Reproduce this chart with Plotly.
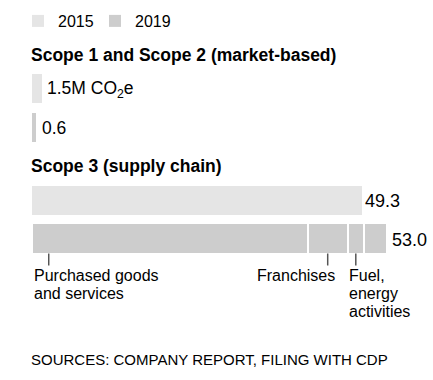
import plotly.graph_objects as go

# ---------------- data ----------------
years = ["2015", "2019"]
scope12_values = [1.5, 0.6]          # Scope 1 and Scope 2 (market-based), M t CO2e
scope3_2015_value = 49.3             # Scope 3 (supply chain), 2015
scope3_2019_parts = ["Purchased goods and services", "Franchises",
                     "Fuel, energy activities", "Other"]
scope3_2019_values = [41.2, 6.0, 2.4, 3.4]   # sums to 53.0
value_labels_s12 = ["1.5M CO<sub>2</sub>e", "0.6"]
value_label_s3 = ["49.3", "53.0"]
part_labels = ["Purchased goods<br>and services", "Franchises", "Fuel,<br>energy<br>activities"]

# ---------------- style / layout ----------------
W, H = 433, 380
PX_PER_UNIT = 6.69
X0 = 32  # pixel of zero
C2015 = "#e5e5e5"
C2019 = "#cdcdcd"
INK = "#000000"
FONT = "Liberation Sans, Arial, Helvetica, sans-serif"
BAR_W = 29
ROW_Y = {"s12_2015": 88.5, "s12_2019": 127, "s3_2015": 200.5, "s3_2019": 238.5}

fig = go.Figure()

# 2015 bars
fig.add_trace(go.Bar(
    name=years[0], orientation="h",
    x=[scope12_values[0], scope3_2015_value],
    y=[ROW_Y["s12_2015"], ROW_Y["s3_2015"]],
    width=BAR_W, marker=dict(color=C2015, line=dict(width=0)),
    hoverinfo="skip", legendrank=1,
))
# 2019 scope 1+2 bar
fig.add_trace(go.Bar(
    name=years[1], orientation="h",
    x=[scope12_values[1]], y=[ROW_Y["s12_2019"]],
    width=BAR_W, marker=dict(color=C2019, line=dict(width=0)),
    hoverinfo="skip", legendgroup="2019", legendrank=2,
))
# 2019 scope 3 segments
base = 0.0
starts = []
for name, v in zip(scope3_2019_parts, scope3_2019_values):
    starts.append(base)
    fig.add_trace(go.Bar(
        name=name, orientation="h", x=[v], y=[ROW_Y["s3_2019"]], base=[base],
        width=BAR_W + 2, marker=dict(color=C2019, line=dict(color="white", width=2)),
        hoverinfo="skip", showlegend=False, legendgroup="2019",
    ))
    base += v
total_2019 = base

# leader ticks under segments
tick_x = [starts[0] + 2.5,
          starts[1] + scope3_2019_values[1] / 2,
          starts[2] + scope3_2019_values[2] / 2]
tx, ty = [], []
for t in tick_x:
    tx += [t, t, None]
    ty += [253.5, 265.5, None]
fig.add_trace(go.Scatter(x=tx, y=ty, mode="lines", line=dict(color="#555555", width=1.5),
                         hoverinfo="skip", showlegend=False))

ann = []
def txt(text, x, y, size, xanchor="left", bold=False, xref="x", xshift=0, color=INK):
    ann.append(dict(text=f"<b>{text}</b>" if bold else text, x=x, y=y, xref=xref, yref="y",
                    xanchor=xanchor, yanchor="middle", showarrow=False, xshift=xshift,
                    font=dict(family=FONT, size=size, color=color), align="left",
                    borderpad=0, borderwidth=0))

# section titles
txt("Scope 1 and Scope 2 (market-based)", 0, 55, 17.5, bold=True, xshift=-1)
txt("Scope 3 (supply chain)", 0, 166, 17.5, bold=True, xshift=-1)

# value labels
txt(value_labels_s12[0], scope12_values[0], ROW_Y["s12_2015"] + 1, 17.5, xshift=5)
txt(value_labels_s12[1], scope12_values[1], ROW_Y["s12_2019"] + 1, 17.5, xshift=6)
txt(value_label_s3[0], scope3_2015_value, ROW_Y["s3_2015"], 18, xshift=3)
txt(value_label_s3[1], total_2019, ROW_Y["s3_2019"] + 1, 18, xshift=5)

# part labels (one annotation per line for exact leading)
LINE = 18
for i, line in enumerate(part_labels[0].split("<br>")):
    txt(line, starts[0], 275 + i * LINE, 16, xshift=2)
txt(part_labels[1], tick_x[1], 275, 16, xanchor="right", xshift=7)
for i, line in enumerate(part_labels[2].split("<br>")):
    txt(line, tick_x[2], 275 + i * LINE, 16, xshift=-7)

# source
ann.append(dict(text="SOURCES: COMPANY REPORT, FILING WITH CDP", x=30 / W, y=359, xref="paper",
                yref="y", xanchor="left", yanchor="middle", showarrow=False,
                font=dict(family=FONT, size=15, color=INK), borderpad=0))

fig.update_layout(
    width=W, height=H, margin=dict(l=0, r=0, t=0, b=0),
    paper_bgcolor="white", plot_bgcolor="white",
    barmode="overlay", bargap=0,
    xaxis=dict(range=[-X0 / PX_PER_UNIT, (W - X0) / PX_PER_UNIT], visible=False, fixedrange=True),
    yaxis=dict(range=[H, 0], visible=False, fixedrange=True),
    showlegend=True,
    legend=dict(orientation="h", x=(X0 - 14) / W, y=1 - 4 / H, xanchor="left", yanchor="top",
                font=dict(family=FONT, size=16, color=INK),
                itemwidth=30, entrywidth=32, bgcolor="rgba(0,0,0,0)", traceorder="normal"),
    annotations=ann,
    font=dict(family=FONT),
)

fig.write_html("out.html", config={"displayModeBar": False},
               post_script="document.body.style.margin='0';document.body.style.overflow='hidden';")
